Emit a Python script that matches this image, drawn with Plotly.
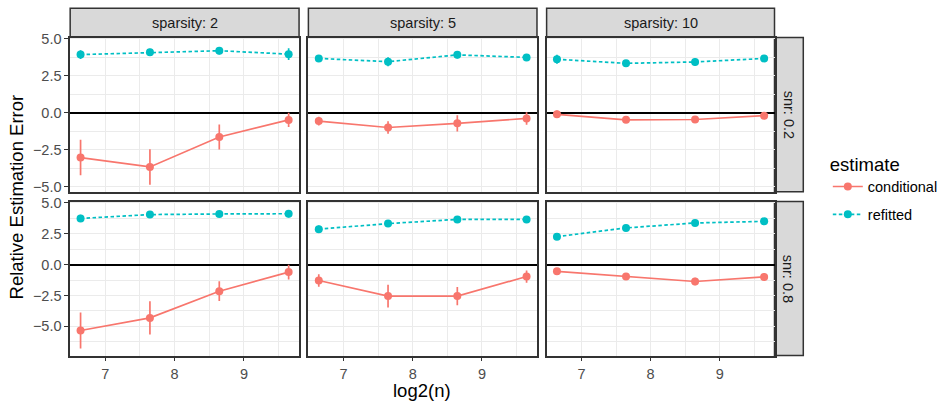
import numpy as np
import plotly.graph_objects as go

# ---------------- data ----------------
n_values = [100, 200, 400, 800]
sparsity_levels = [2, 5, 10]
snr_levels = [0.2, 0.8]
estimate_names = ["conditional", "refitted"]

# snr 0.2
cond_snr02_s2 = [-3.03, -3.66, -1.64, -0.49]
cond_err_snr02_s2 = [1.2, 1.2, 0.85, 0.48]
refit_snr02_s2 = [3.92, 4.07, 4.18, 3.95]
refit_err_snr02_s2 = [0.3, 0.25, 0.25, 0.4]

cond_snr02_s5 = [-0.57, -1.0, -0.72, -0.39]
cond_err_snr02_s5 = [0.3, 0.42, 0.55, 0.42]
refit_snr02_s5 = [3.66, 3.44, 3.9, 3.73]
refit_err_snr02_s5 = [0.2, 0.3, 0.25, 0.2]

cond_snr02_s10 = [-0.11, -0.48, -0.46, -0.2]
cond_err_snr02_s10 = [0.25, 0.15, 0.15, 0.25]
refit_snr02_s10 = [3.6, 3.33, 3.42, 3.66]
refit_err_snr02_s10 = [0.3, 0.2, 0.25, 0.15]

# snr 0.8
cond_snr08_s2 = [-5.34, -4.32, -2.16, -0.61]
cond_err_snr08_s2 = [1.45, 1.35, 0.8, 0.6]
refit_snr08_s2 = [3.74, 4.05, 4.1, 4.12]
refit_err_snr08_s2 = [0.3, 0.2, 0.25, 0.3]

cond_snr08_s5 = [-1.29, -2.55, -2.55, -0.97]
cond_err_snr08_s5 = [0.5, 0.92, 0.74, 0.5]
refit_snr08_s5 = [2.87, 3.32, 3.66, 3.66]
refit_err_snr08_s5 = [0.3, 0.15, 0.15, 0.15]

cond_snr08_s10 = [-0.55, -0.97, -1.37, -1.0]
cond_err_snr08_s10 = [0.15, 0.15, 0.3, 0.3]
refit_snr08_s10 = [2.26, 2.97, 3.37, 3.5]
refit_err_snr08_s10 = [0.25, 0.15, 0.15, 0.15]

panels = {
    (0, 0): (cond_snr02_s2, cond_err_snr02_s2, refit_snr02_s2, refit_err_snr02_s2),
    (0, 1): (cond_snr02_s5, cond_err_snr02_s5, refit_snr02_s5, refit_err_snr02_s5),
    (0, 2): (cond_snr02_s10, cond_err_snr02_s10, refit_snr02_s10, refit_err_snr02_s10),
    (1, 0): (cond_snr08_s2, cond_err_snr08_s2, refit_snr08_s2, refit_err_snr08_s2),
    (1, 1): (cond_snr08_s5, cond_err_snr08_s5, refit_snr08_s5, refit_err_snr08_s5),
    (1, 2): (cond_snr08_s10, cond_err_snr08_s10, refit_snr08_s10, refit_err_snr08_s10),
}

x_vals = list(np.log2(n_values))

# ---------------- layout geometry ----------------
W, H = 943, 409
FONT = "Liberation Sans, Arial, sans-serif"
COND_COLOR = "#F8766D"
REFIT_COLOR = "#00BFC4"
BORDER = "#333333"
GRID = "#EBEBEB"


def px(x):
    return x / W


def py(y):
    return 1 - y / H


col_px = [(70.7, 301.3), (310.7, 541.0), (550.7, 780.3)]
row_px = [(31.3, 189.3), (199.5, 357.3)]
row_ranges = [[-5.33, 5.07], [-7.37, 5.1]]
x_range = [6.494, 9.794]

fig = go.Figure()
layout = {}
shapes = []
annotations = []

for r in range(2):
    for c in range(3):
        k = r * 3 + c + 1
        xa = "x" if k == 1 else f"x{k}"
        ya = "y" if k == 1 else f"y{k}"
        xname = "xaxis" if k == 1 else f"xaxis{k}"
        yname = "yaxis" if k == 1 else f"yaxis{k}"
        cond, cond_err, refit, refit_err = panels[(r, c)]
        show = (k == 1)
        fig.add_trace(go.Scatter(
            x=x_vals, y=cond, xaxis=xa, yaxis=ya, mode="lines+markers",
            name="conditional", legendgroup="conditional", showlegend=show,
            line=dict(color=COND_COLOR, width=1.7),
            marker=dict(color=COND_COLOR, size=8),
            error_y=dict(type="data", array=cond_err, visible=True,
                         color=COND_COLOR, thickness=1.7, width=0),
        ))
        fig.add_trace(go.Scatter(
            x=x_vals, y=refit, xaxis=xa, yaxis=ya, mode="lines+markers",
            name="refitted", legendgroup="refitted", showlegend=show,
            line=dict(color=REFIT_COLOR, width=1.7, dash="3.5px,2.5px"),
            marker=dict(color=REFIT_COLOR, size=8),
            error_y=dict(type="data", array=refit_err, visible=True,
                         color=REFIT_COLOR, thickness=1.7, width=0),
        ))
        x0, x1 = col_px[c]
        y0, y1 = row_px[r]
        layout[xname] = dict(
            domain=[px(x0), px(x1)], range=x_range, anchor=ya,
            showline=True, mirror=True, linecolor=BORDER, linewidth=1.5,
            showgrid=True, gridcolor=GRID, gridwidth=1.4,
            tickmode="array", tickvals=[7, 8, 9],
            minor=dict(tickmode="array", tickvals=[6.5, 7.5, 8.5, 9.5],
                       showgrid=True, gridcolor=GRID, gridwidth=0.7, ticks=""),
            showticklabels=(r == 1), ticks="outside" if r == 1 else "",
            ticklen=4, tickcolor=BORDER, tickwidth=1.2,
            tickfont=dict(family=FONT, size=14.5, color="#4D4D4D"),
            zeroline=False, fixedrange=True,
        )
        layout[yname] = dict(
            domain=[py(y1), py(y0)], range=row_ranges[r], anchor=xa,
            showline=True, mirror=True, linecolor=BORDER, linewidth=1.5,
            showgrid=True, gridcolor=GRID, gridwidth=1.4,
            tickmode="array", tickvals=[-5, -2.5, 0, 2.5, 5],
            ticktext=["\u22125.0", "\u22122.5", "0.0", "2.5", "5.0"],
            minor=dict(tickmode="array", tickvals=[-6.25, -3.75, -1.25, 1.25, 3.75],
                       showgrid=True, gridcolor=GRID, gridwidth=0.7, ticks=""),
            showticklabels=(c == 0), ticks="outside" if c == 0 else "",
            ticklen=4, tickcolor=BORDER, tickwidth=1.2,
            tickfont=dict(family=FONT, size=14.5, color="#4D4D4D"),
            zeroline=True, zerolinecolor="#000000", zerolinewidth=1.7,
            fixedrange=True,
        )

# top strips
for c in range(3):
    x0, x1 = col_px[c]
    shapes.append(dict(type="rect", xref="paper", yref="paper",
                       x0=px(x0), x1=px(x1), y0=py(31.3), y1=py(1.3),
                       fillcolor="#D9D9D9", line=dict(color=BORDER, width=1.5),
                       layer="below"))
    annotations.append(dict(text=f"sparsity: {sparsity_levels[c]}", xref="paper", yref="paper",
                            x=px((x0 + x1) / 2), y=py(16.3), showarrow=False,
                            xanchor="center", yanchor="middle",
                            font=dict(family=FONT, size=14.5, color="#1A1A1A")))
# right strips
for r in range(2):
    y0, y1 = row_px[r]
    shapes.append(dict(type="rect", xref="paper", yref="paper",
                       x0=px(780.3), x1=px(809.3), y0=py(y1), y1=py(y0),
                       fillcolor="#D9D9D9", line=dict(color=BORDER, width=1.5),
                       layer="below"))
    annotations.append(dict(text=f"snr: {snr_levels[r]}", xref="paper", yref="paper",
                            x=px(794.8), y=py((y0 + y1) / 2), showarrow=False,
                            textangle=90, xanchor="center", yanchor="middle",
                            font=dict(family=FONT, size=14.5, color="#1A1A1A")))

# axis titles
annotations.append(dict(text="Relative Estimation Error", xref="paper", yref="paper",
                        x=px(17), y=py(194.3), showarrow=False, textangle=-90,
                        xanchor="center", yanchor="middle",
                        font=dict(family=FONT, size=18.5, color="#000000")))
annotations.append(dict(text="log2(n)", xref="paper", yref="paper",
                        x=px(425.5), y=py(393), showarrow=False,
                        xanchor="center", yanchor="middle",
                        font=dict(family=FONT, size=18.5, color="#000000")))

fig.update_layout(
    width=W, height=H,
    margin=dict(l=0, r=0, t=0, b=0),
    paper_bgcolor="white", plot_bgcolor="white",
    shapes=shapes, annotations=annotations,
    legend=dict(
        x=px(834), y=py(143), xanchor="left", yanchor="top",
        title=dict(text="estimate", font=dict(family=FONT, size=18.5, color="#000000")),
        font=dict(family=FONT, size=14.5, color="#000000"),
        itemwidth=30, tracegroupgap=6, bgcolor="rgba(0,0,0,0)",
    ),
    **layout,
)

fig.write_html("out.html")
